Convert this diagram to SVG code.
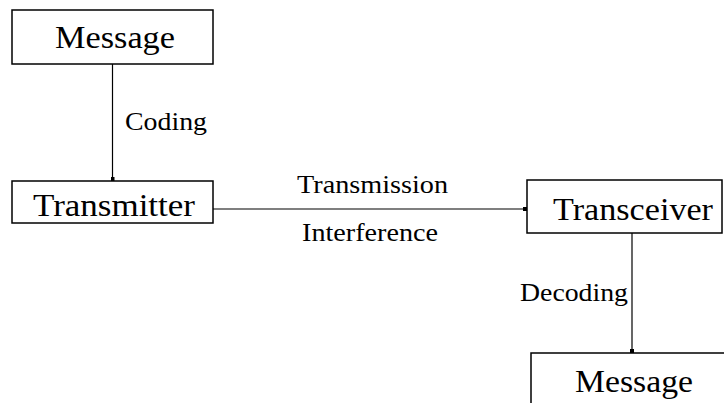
<svg xmlns="http://www.w3.org/2000/svg" width="724" height="403" viewBox="0 0 724 403">
<style>
.box{fill:#fff;stroke:#000;stroke-width:1.5}
.t{font-family:"Liberation Serif","Times New Roman",serif;fill:#000}
.big{font-size:31px}
.lbl{font-size:25px}
.edge{stroke:#000;stroke-width:1.2;fill:none;marker-end:url(#a)}
</style>
<defs>
<marker id="a" viewBox="0 0 4 4" refX="4" refY="2" markerWidth="4" markerHeight="4" markerUnits="userSpaceOnUse" orient="auto">
<rect x="0" y="0" width="4" height="4" fill="#000"/>
</marker>
</defs>
<rect width="724" height="403" fill="#fff"/>
<g id="connectors">
<line class="edge" x1="112.5" y1="64" x2="112.5" y2="181"/>
<line class="edge" x1="213" y1="209" x2="527" y2="209"/>
<line class="edge" x1="632" y1="233" x2="632" y2="353"/>
<text class="t lbl" x="125" y="130" textLength="82" lengthAdjust="spacingAndGlyphs">Coding</text>
<text class="t lbl" x="297" y="193" textLength="151" lengthAdjust="spacingAndGlyphs">Transmission</text>
<text class="t lbl" x="302" y="241" textLength="136" lengthAdjust="spacingAndGlyphs">Interference</text>
<text class="t lbl" x="520" y="301" textLength="108" lengthAdjust="spacingAndGlyphs">Decoding</text>
</g>
<g id="message-top">
<rect class="box" x="12" y="10" width="201" height="54"/>
<text class="t big" x="55" y="48" textLength="120" lengthAdjust="spacingAndGlyphs">Message</text>
</g>
<g id="transmitter">
<rect class="box" x="12" y="181" width="201" height="42"/>
<text class="t big" x="33" y="216" textLength="162" lengthAdjust="spacingAndGlyphs">Transmitter</text>
</g>
<g id="transceiver">
<rect class="box" x="527" y="180" width="195" height="53"/>
<text class="t big" x="553" y="220" textLength="160" lengthAdjust="spacingAndGlyphs">Transceiver</text>
</g>
<g id="message-bottom">
<rect class="box" x="531" y="353" width="200" height="60"/>
<text class="t big" x="575" y="392" textLength="118" lengthAdjust="spacingAndGlyphs">Message</text>
</g>
</svg>
